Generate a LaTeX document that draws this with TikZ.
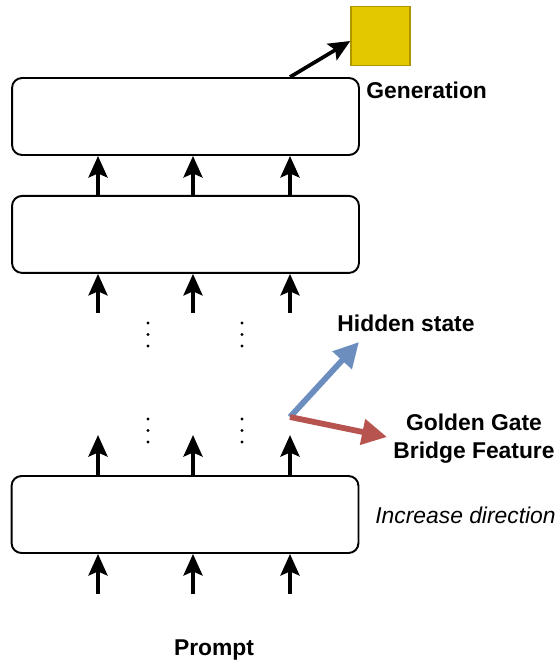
\documentclass[tikz,border=0pt]{standalone}
\usepackage{fontspec}
\setmainfont{Liberation Sans}
\usetikzlibrary{arrows.meta, positioning, calc}
\definecolor{hiddenblue}{HTML}{6C8EBF}
\definecolor{featurered}{HTML}{B85450}
\definecolor{genfill}{HTML}{E3C800}
\definecolor{gendraw}{HTML}{B09500}

\begin{document}
\begin{tikzpicture}[x=0.02cm, y=-0.02cm,
  layer/.style={rectangle, draw, rounded corners=0.2cm, line width=1.1pt, minimum width=6.94cm, minimum height=1.54cm},
  flow/.style={-{Stealth[length=0.43cm, width=0.38cm, inset=0.08cm]}, line width=2.1pt},
  vec/.style={-{Triangle[length=0.5cm, width=0.5cm]}, line width=3.3pt},
  boldtxt/.style={font=\fontsize{13}{16}\selectfont\bfseries, align=center, inner sep=0pt},
  plaintxt/.style={font=\fontsize{13}{16}\selectfont\itshape, inner sep=0pt}
]
  \useasboundingbox (0,0) rectangle (559,665);

  % Layers
  \node[layer] (l1) at (185.5,116.5) {};
  \node[layer, below=0.78cm of l1] (l2) {};
  \node[layer] (l3) at (185,514.5) {};

  % Token columns
  \coordinate (c1) at (98,0);
  \coordinate (c2) at (193,0);
  \coordinate (c3) at (290,0);

  % Residual stream arrows
  \foreach \i in {1,2,3} {
    \draw[flow] (l2.north -| c\i) -- (l1.south -| c\i);
    \draw[flow] ($(l2.south -| c\i)+(0,39)$) -- (l2.south -| c\i);
    \draw[flow] (l3.north -| c\i) -- ($(l3.north -| c\i)+(0,-40)$);
    \draw[flow] ($(l3.south -| c\i)+(0,40)$) -- (l3.south -| c\i);
  }

  % Skipped layers
  \foreach \x in {148,242}
    \foreach \y in {323,419}
      \foreach \k in {0,1,2}
        \fill (\x,\y+11.5*\k) circle[radius=0.032cm];

  % Output token
  \node[rectangle, draw=gendraw, fill=genfill, line width=0.8pt, minimum size=1.18cm] (gen) at (380.5,36) {};
  \draw[flow] (l1.north -| c3) -- ([yshift=-0.1cm]gen.west);
  \node[boldtxt, anchor=west] (gentxt) at (366,90) {Generation};

  % Steering vectors
  \coordinate (steer) at (290,417);
  \coordinate (hidtip) at (359,342);
  \coordinate (feattip) at (387,437);
  \draw[vec, hiddenblue] (steer) -- (hidtip);
  \draw[vec, featurered] (steer) -- (feattip);
  \node[boldtxt] (hidtxt) at (406,323) {Hidden state};
  \node[boldtxt] (feattxt) at (474,439) {Golden Gate\\Bridge Feature};
  \node[plaintxt, anchor=west] (inctxt) at (375,515) {Increase direction};

  % Input
  \node[boldtxt] (prompt) at (214,650) {Prompt};
\end{tikzpicture}
\end{document}
